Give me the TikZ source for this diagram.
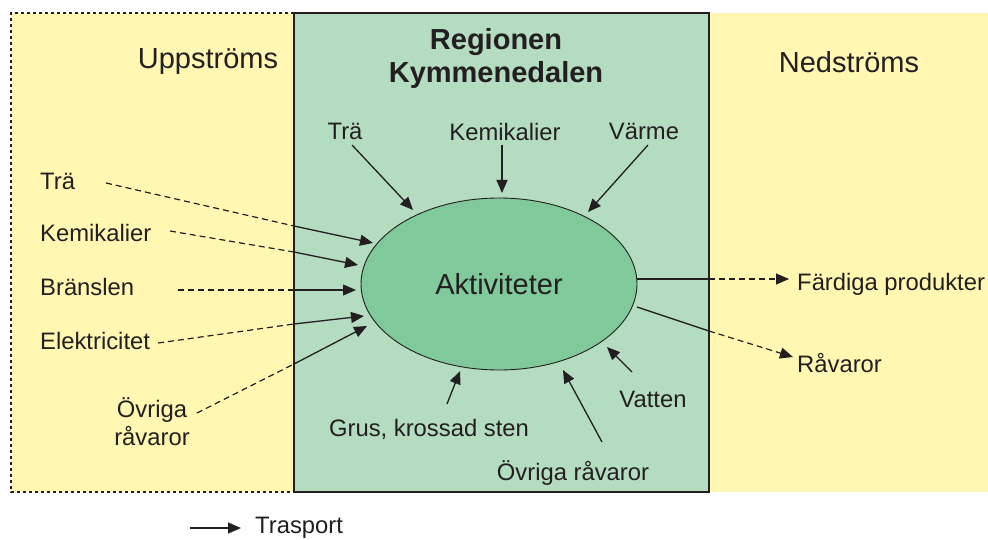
\documentclass[tikz,border=0pt]{standalone}
\usepackage{fontspec}
\setmainfont{Liberation Sans}
\usetikzlibrary{arrows.meta,shapes.geometric}
\definecolor{upyellow}{RGB}{255,247,178}
\definecolor{regiongreen}{RGB}{180,220,192}
\definecolor{actgreen}{RGB}{128,201,154}
\definecolor{ink}{RGB}{35,31,32}

\begin{document}
\begin{tikzpicture}[x=1pt,y=-1pt,
  lbl/.style={text=ink, font=\fontsize{23.8}{28}\selectfont, inner sep=0pt},
  head/.style={text=ink, font=\fontsize{29}{33}\selectfont, inner sep=0pt},
  tip/.style={-{Triangle[length=13pt,width=11pt]}},
  flow/.style={draw=ink, line width=1.3pt, tip},
  solidseg/.style={draw=ink, line width=1.3pt},
  dashseg/.style={draw=ink, line width=1.2pt, dash pattern=on 6pt off 4pt},
  dashflow/.style={dashseg, tip}
]
\useasboundingbox (0,0) rectangle (988,540);
\fill[white] (0,0) rectangle (988,540);

% zones: upstream, region, downstream
\fill[upyellow] (11,13) rectangle (294,492);
\draw[ink, line width=1.5pt, dash pattern=on 3pt off 3pt] (294,13) -- (11,13) -- (11,492) -- (294,492);
\fill[upyellow] (709,13) rectangle (988,492);
\fill[regiongreen] (294,13) rectangle (709,492);
\draw[ink, line width=1.3pt] (294,13) rectangle (709,492);

% headings
\node[head] (up) at (208,62) {Uppströms};
\node[head] (down) at (849,62) {Nedströms};
\node[head, font=\fontsize{29}{33}\selectfont\bfseries, align=center] (reg) at (496,59) {Regionen\\Kymmenedalen};

% central activity
\node[ellipse, draw=ink, line width=0.9pt, fill=actgreen, minimum width=276pt, minimum height=172pt, head] (act) at (499,284) {Aktiviteter};

% labels inside the region
\node[lbl] (tTra) at (345,131) {Trä};
\node[lbl] (tKem) at (505,132) {Kemikalier};
\node[lbl] (tVar) at (644,131) {Värme};
\node[lbl] (tGrus) at (429,429) {Grus, krossad sten};
\node[lbl] (tVat) at (653,399) {Vatten};
\node[lbl] (tOvr) at (573,473) {Övriga råvaror};

% upstream labels
\node[lbl, anchor=west] (uTra) at (40,181) {Trä};
\node[lbl, anchor=west] (uKem) at (40,233) {Kemikalier};
\node[lbl, anchor=west] (uBra) at (40,287) {Bränslen};
\node[lbl, anchor=west] (uEl) at (40,341) {Elektricitet};
\node[lbl, align=center] (uOvr) at (152,422) {Övriga\\råvaror};

% downstream labels
\node[lbl, anchor=west] (dFar) at (797,284) {Färdiga produkter};
\node[lbl, anchor=west] (dRav) at (797,363) {Råvaror};

% connector end points
\coordinate (sTra) at (352,145);  \coordinate (eTra) at (413,210);
\coordinate (sKem) at (502,145);  \coordinate (eKem) at (502,193);
\coordinate (sVar) at (648,145);  \coordinate (eVar) at (588,212);
\coordinate (sGrus) at (447,404); \coordinate (eGrus) at (460,371);
\coordinate (sVat) at (632,372);  \coordinate (eVat) at (607,347);
\coordinate (sOvr) at (602,442);  \coordinate (eOvr) at (563,370);

\coordinate (a1) at (106,183); \coordinate (b1) at (294,226); \coordinate (c1) at (373,243);
\coordinate (a2) at (170,231); \coordinate (b2) at (294,252); \coordinate (c2) at (358,265);
\coordinate (a3) at (178,290); \coordinate (b3) at (294,290); \coordinate (c3) at (356,290);
\coordinate (a4) at (158,343); \coordinate (b4) at (294,324); \coordinate (c4) at (364,316);
\coordinate (a5) at (197,413); \coordinate (b5) at (294,364); \coordinate (c5) at (367,326);

\coordinate (o1) at (637,279); \coordinate (p1) at (709,279); \coordinate (q1) at (789,279);
\coordinate (o2) at (637,307); \coordinate (p2) at (709,331); \coordinate (q2) at (793,357);

% inputs from within the region
\draw[flow] (sTra) -- (eTra);
\draw[flow] (sKem) -- (eKem);
\draw[flow] (sVar) -- (eVar);
\draw[flow] (sGrus) -- (eGrus);
\draw[flow] (sVat) -- (eVat);
\draw[flow] (sOvr) -- (eOvr);

% inputs from upstream
\draw[dashseg] (a1) -- (b1); \draw[flow] (b1) -- (c1);
\draw[dashseg] (a2) -- (b2); \draw[flow] (b2) -- (c2);
\draw[dashseg] (a3) -- (b3); \draw[flow] (b3) -- (c3);
\draw[dashseg] (a4) -- (b4); \draw[flow] (b4) -- (c4);
\draw[dashseg] (a5) -- (b5); \draw[flow] (b5) -- (c5);

% outputs downstream
\draw[solidseg] (o1) -- (p1); \draw[dashflow] (p1) -- (q1);
\draw[solidseg] (o2) -- (p2); \draw[dashflow] (p2) -- (q2);

% legend
\coordinate (legA) at (190,528); \coordinate (legB) at (241,528);
\draw[flow] (legA) -- (legB);
\node[lbl, anchor=west] (legT) at (255,528) {Trasport};
\end{tikzpicture}
\end{document}
